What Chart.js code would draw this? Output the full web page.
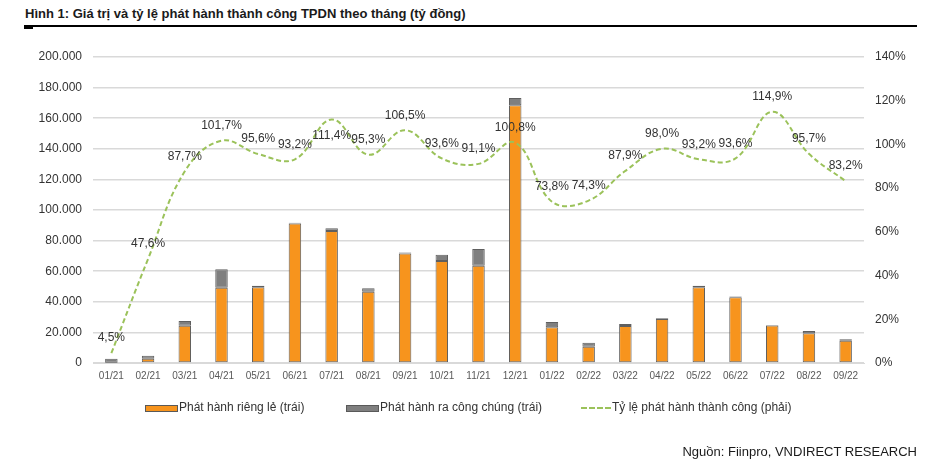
<!DOCTYPE html>
<html>
<head>
<meta charset="utf-8">
<script src="https://cdn.jsdelivr.net/npm/chart.js@4"></script>
<style>
  html, body { margin:0; padding:0; background:#fff; }
  body { width:941px; height:459px; position:relative; overflow:hidden; font-family:"Liberation Sans", Arial, sans-serif; }
  #title { position:absolute; left:25px; top:6px; font-size:13px; font-weight:bold; color:#1a1a1a; white-space:nowrap; }
  #rule { position:absolute; left:24px; top:25px; width:893px; height:0; border-top:2px solid #000; }
  #rule2 { position:absolute; left:24px; top:26px; width:9px; height:3px; background:#000; }
  #source { position:absolute; right:24px; top:444px; font-size:13px; color:#1a1a1a; white-space:nowrap; }
  canvas { position:absolute; left:0; top:0; }
  .lg { position:absolute; font-size:12px; color:#333; white-space:nowrap; top:400px; }
  .box { position:absolute; top:405px; width:31px; height:5px; border:1px solid #595959; }
  .dash { position:absolute; top:407px; width:30px; height:0; border-top:2px dashed #9bc25a; }
</style>
</head>
<body>
<div id="title">Hình 1: Giá trị và tỷ lệ phát hành thành công TPDN theo tháng (tỷ đồng)</div>
<div id="rule"></div><div id="rule2"></div>
<canvas id="c" width="941" height="459"></canvas>
<div class="box" style="left:145px;background:#f7941d;"></div>
<div class="lg" style="left:179px;">Phát hành riêng lẻ (trái)</div>
<div class="box" style="left:346px;background:#7f7f7f;"></div>
<div class="lg" style="left:380px;">Phát hành ra công chúng (trái)</div>
<div class="dash" style="left:581px;"></div>
<div class="lg" style="left:612px;">Tỷ lệ phát hành thành công (phải)</div>
<div id="source">Nguồn: Fiinpro, VNDIRECT RESEARCH</div>
<script>
const months = ["01/21","02/21","03/21","04/21","05/21","06/21","07/21","08/21","09/21","10/21","11/21","12/21","01/22","02/22","03/22","04/22","05/22","06/22","07/22","08/22","09/22"];
const privateIssue = [0.2, 2.8, 24.4, 49.2, 49.5, 91.2, 86.3, 46.6, 71.6, 66.7, 63.6, 168.4, 23.3, 10.7, 24.2, 28.8, 49.5, 42.9, 24.5, 19.4, 14.6];
const publicIssue  = [2.5, 2.0, 3.1, 12.0, 1.0, 0.5, 1.7, 2.2, 0.7, 4.1, 10.9, 4.8, 3.5, 2.6, 1.3, 0.4, 1.0, 0.5, 0.3, 1.5, 0.9];
const successRate  = [4.5, 47.6, 87.7, 101.7, 95.6, 93.2, 111.4, 95.3, 106.5, 93.6, 91.1, 100.8, 73.8, 74.3, 87.9, 98.0, 93.2, 93.6, 114.9, 95.7, 83.2];
const leftTicks = [0, 20000, 40000, 60000, 80000, 100000, 120000, 140000, 160000, 180000, 200000];
const rightTicks = [0, 20, 40, 60, 80, 100, 120, 140];
// data labels drawn below the line instead of above
const labelsBelow = ["07/21"];

const toBn = a => a.map(v => v * 1000);
const fmtThousands = v => v === 0 ? "0" : String(v).replace(/\B(?=(\d{3})+(?!\d))/g, ".");
const fmtPct = v => v.toFixed(1).replace(".", ",") + "%";

const labelPlugin = {
  id: "lineLabels",
  afterDatasetsDraw(chart) {
    const ctx = chart.ctx;
    const meta = chart.getDatasetMeta(2);
    ctx.save();
    ctx.font = "12px 'Liberation Sans', Arial, sans-serif";
    ctx.fillStyle = "#333";
    ctx.textAlign = "center";
    ctx.textBaseline = "middle";
    meta.data.forEach((pt, i) => {
      const dy = labelsBelow.includes(months[i]) ? 16 : -15;
      ctx.fillText(fmtPct(successRate[i]), pt.x, pt.y + dy);
    });
    ctx.restore();
  }
};

new Chart(document.getElementById("c"), {
  data: {
    labels: months,
    datasets: [
      { type: "bar", label: "Phát hành riêng lẻ (trái)", data: toBn(privateIssue), backgroundColor: "#f7941d", borderColor: "#5f5f5f", borderWidth: 1, borderSkipped: false, yAxisID: "y", stack: "s", categoryPercentage: 1, barPercentage: 0.34, order: 2 },
      { type: "bar", label: "Phát hành ra công chúng (trái)", data: toBn(publicIssue), backgroundColor: "#7f7f7f", borderColor: "#5f5f5f", borderWidth: 1, borderSkipped: false, yAxisID: "y", stack: "s", categoryPercentage: 1, barPercentage: 0.34, order: 2 },
      { type: "line", label: "Tỷ lệ phát hành thành công (phải)", data: successRate, borderColor: "#9bc25a", borderWidth: 2, borderDash: [5, 3], pointRadius: 0, tension: 0.4, fill: false, yAxisID: "y1", order: 1 }
    ]
  },
  options: {
    responsive: false,
    animation: false,
    devicePixelRatio: 1,
    layout: { padding: { top: 57, left: 0, right: 0, bottom: 0 } },
    plugins: { legend: { display: false }, tooltip: { enabled: false } },
    scales: {
      x: {
        stacked: true,
        grid: { display: false, drawTicks: false },
        border: { display: true, color: "#d9d9d9", width: 1 },
        ticks: { color: "#595959", font: { size: 10, family: "'Liberation Sans', Arial, sans-serif" }, maxRotation: 0, autoSkip: false, padding: 7 },
        afterFit(s) { s.height = 96; }
      },
      y: {
        position: "left", stacked: true, min: 0, max: 200000,
        afterBuildTicks(s) { s.ticks = leftTicks.map(v => ({ value: v })); },
        grid: { color: "#d9d9d9", lineWidth: 1.5, drawTicks: false },
        border: { display: false },
        ticks: { color: "#333", font: { size: 12, family: "'Liberation Sans', Arial, sans-serif" }, padding: 11, callback: v => fmtThousands(v) },
        afterFit(s) { s.width = 93; }
      },
      y1: {
        position: "right", min: 0, max: 140,
        afterBuildTicks(s) { s.ticks = rightTicks.map(v => ({ value: v })); },
        grid: { display: false, drawTicks: false },
        border: { display: false },
        ticks: { color: "#333", font: { size: 12, family: "'Liberation Sans', Arial, sans-serif" }, padding: 11, callback: v => v + "%" },
        afterFit(s) { s.width = 77; }
      }
    }
  },
  plugins: [labelPlugin]
});
</script>
</body>
</html>
